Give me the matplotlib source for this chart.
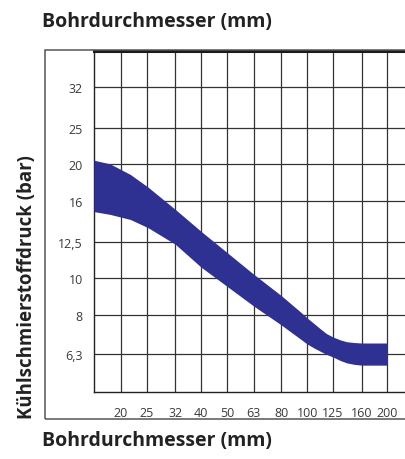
import matplotlib
matplotlib.use("Agg")
import matplotlib.pyplot as plt
from matplotlib.patches import Rectangle
import numpy as np

plt.rcParams['font.family'] = ['Open Sans', 'DejaVu Sans']

# Achsenbeschriftung (R10-Reihe)
bohr_ticks = [20, 25, 32, 40, 50, 63, 80, 100, 125, 160, 200]
bohr_labels = ["20", "25", "32", "40", "50", "63", "80", "100", "125", "160", "200"]
druck_ticks = [6.3, 8, 10, 12.5, 16, 20, 25, 32]
druck_labels = ["6,3", "8", "10", "12,5", "16", "20", "25", "32"]

# Band: Bohrdurchmesser (mm) -> Druck oben / unten (bar)
bohr = [15.85, 18.2, 21.7, 25.3, 32, 40, 63, 80, 95, 100, 106, 112, 118, 125, 133, 141, 150, 160, 200]
druck_oben = [20.5, 20.05, 18.8, 17.4, 15.2, 13.3, 10.25, 9.0, 8.12, 7.86, 7.6, 7.36, 7.15, 7.0, 6.88, 6.8, 6.77, 6.75, 6.75]
druck_unten = [15.0, 14.75, 14.3, 13.6, 12.3, 10.7, 8.45, 7.53, 6.89, 6.71, 6.55, 6.42, 6.3, 6.2, 6.07, 5.98, 5.93, 5.9, 5.9]

W, H = 405, 460
fig = plt.figure(figsize=(W / 100, H / 100), dpi=100)

ax = fig.add_axes([94 / W, 1 - 393 / H, (W - 94) / W, (393 - 52) / H])
ax.set_xscale('log')
ax.set_yscale('log')
ax.set_xlim(10 ** 1.2, 10 ** 2.367)
ax.set_ylim(10 ** 0.7, 10 ** 1.6)

ax.fill_between(bohr, druck_unten, druck_oben, color='#2E3191', lw=0, zorder=3)

ax.set_xticks(bohr_ticks)
ax.set_xticklabels(bohr_labels)
ax.set_yticks(druck_ticks)
ax.set_yticklabels(druck_labels)
ax.minorticks_off()
ax.tick_params(length=0, labelsize=9, labelcolor='#3a3a3a')
ax.tick_params(axis='x', pad=10)
ax.tick_params(axis='y', pad=8)

for v in bohr_ticks:
    ax.axvline(v, color='#333333', lw=0.9, zorder=1)
for v in druck_ticks:
    ax.axhline(v, color='#333333', lw=0.9, zorder=1)

ax.spines['right'].set_visible(False)
ax.spines['top'].set_linewidth(2.2)
ax.spines['top'].set_color('#1a1a1a')
ax.spines['left'].set_linewidth(1.0)
ax.spines['left'].set_color('#222222')
ax.spines['bottom'].set_linewidth(1.0)
ax.spines['bottom'].set_color('#222222')

# aeusserer Rahmen
fig.patches.append(Rectangle((45 / W, 1 - 420 / H), (W + 10 - 45) / W, (420 - 51) / H,
                             transform=fig.transFigure, fill=False,
                             ec='#555555', lw=1.1, zorder=0))

fig.text(42 / W, 1 - 22 / H, "Bohrdurchmesser (mm)", ha='left', va='center',
         fontsize=14, fontweight='bold', color='#222222')
fig.text(42 / W, 1 - 441 / H, "Bohrdurchmesser (mm)", ha='left', va='center',
         fontsize=14, fontweight='bold', color='#222222')
fig.text(27 / W, 1 - 287 / H, "Kühlschmierstoffdruck (bar)", ha='center', va='center',
         rotation=90, fontsize=13.4, fontweight='bold', color='#222222')

fig.savefig("out.png", dpi=100)
